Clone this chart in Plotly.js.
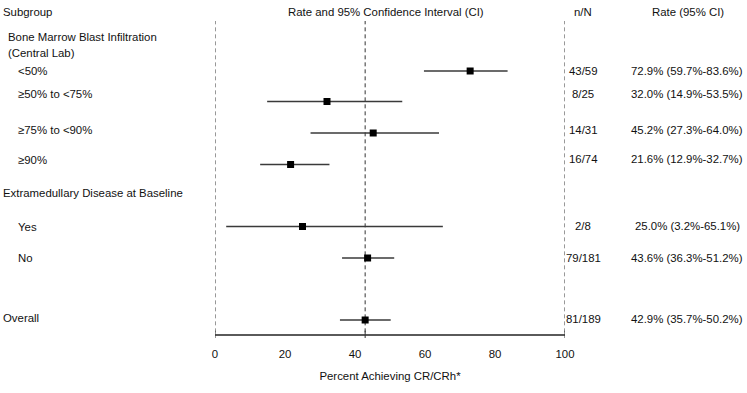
<!DOCTYPE html>
<html>
<head>
<meta charset="utf-8">
<script src="https://cdn.plot.ly/plotly-3.0.1.min.js"></script>
<style>html,body{margin:0;padding:0;background:#fff;}#chart{width:747px;height:393px;}</style>
</head>
<body>
<div id="chart"></div>
<script>
// Estimates (rate and 95% CI)
const subgroups = ["<50%", "≥50% to <75%", "≥75% to <90%", "≥90%", "Yes", "No", "Overall"];
const rate  = [72.9, 32.0, 45.2, 21.6, 25.0, 43.6, 42.9];
const lower = [59.7, 14.9, 27.3, 12.9, 3.2, 36.3, 35.7];
const upper = [83.6, 53.5, 64.0, 32.7, 65.1, 51.2, 50.2];
const nN    = ["43/59", "8/25", "14/31", "16/74", "2/8", "79/181", "81/189"];
// Row positions (vertical layout units, top = 0)
const markerRow = [71, 101.5, 133, 164.5, 226.5, 258, 320];
const textRow   = [71, 94, 130, 159, 226, 258, 319];
// Left-hand label column
const labelText = ["Subgroup", "Bone Marrow Blast Infiltration", "(Central Lab)", "<50%", "≥50% to <75%", "≥75% to <90%", "≥90%", "Extramedullary Disease at Baseline", "Yes", "No", "Overall"];
const labelRow  = [12, 37, 53, 71, 94, 130, 160, 193, 227, 258, 318];
const labelIndent = [0, 1, 1, 2, 2, 2, 2, 0, 2, 2, 0];
const xTicks = [0, 20, 40, 60, 80, 100];
const overallRate = 42.9;

const FONT = "Liberation Sans, Arial, sans-serif";
const FS = 11.4;
const PLOT_L = 215, PLOT_R = 565, W = PLOT_R - PLOT_L;
const px2paper = p => (p - PLOT_L) / W;

const rateLabels = rate.map((r, i) => r.toFixed(1) + "% (" + lower[i].toFixed(1) + "%-" + upper[i].toFixed(1) + "%)");

const trace = {
  type: "scatter",
  mode: "markers",
  x: rate,
  y: markerRow,
  text: subgroups,
  marker: {symbol: "square", size: 7, color: "#000"},
  error_x: {
    type: "data", symmetric: false,
    array: rate.map((r, i) => upper[i] - r),
    arrayminus: rate.map((r, i) => r - lower[i]),
    width: 0, thickness: 1.3, color: "#3a3a3a"
  },
  cliponaxis: false,
  showlegend: false,
  hoverinfo: "x+text"
};

const annotations = [];
const indentPx = [4, 9, 19];
const txtFont = {family: FONT, size: FS, color: "#111"};
labelText.forEach((t, i) => {
  annotations.push({xref: "paper", yref: "y", x: px2paper(indentPx[labelIndent[i]] - 3), y: labelRow[i],
    xanchor: "left", yanchor: "middle", text: t, showarrow: false, font: txtFont});
});
nN.forEach((t, i) => {
  annotations.push({xref: "paper", yref: "y", x: px2paper(583), y: textRow[i], xanchor: "center", yanchor: "middle",
    text: t, showarrow: false, font: txtFont});
  annotations.push({xref: "paper", yref: "y", x: px2paper(687), y: textRow[i], xanchor: "center", yanchor: "middle",
    text: rateLabels[i], showarrow: false, font: txtFont});
});
annotations.push({xref: "paper", yref: "y", x: px2paper(386), y: 12, xanchor: "center", yanchor: "middle",
  text: "Rate and 95% Confidence Interval (CI)", showarrow: false, font: txtFont});
annotations.push({xref: "paper", yref: "y", x: px2paper(583), y: 12, xanchor: "center", yanchor: "middle",
  text: "n/N", showarrow: false, font: txtFont});
annotations.push({xref: "paper", yref: "y", x: px2paper(688), y: 12, xanchor: "center", yanchor: "middle",
  text: "Rate (95% CI)", showarrow: false, font: txtFont});

const refLines = [0, overallRate, 100];
const shapes = refLines.map(v => ({type: "line", xref: "x", yref: "paper", x0: v, x1: v, y0: 0.005, y1: (334 - 21) / 334,
  line: {color: "#333", width: 1, dash: "4px,3px"}, layer: "below"}));
refLines.forEach(v => shapes.push({type: "line", xref: "x", yref: "paper", x0: v, x1: v, y0: -0.012, y1: 0.01,
  line: {color: "#333", width: 1}, layer: "above"}));

const layout = {
  width: 747, height: 393,
  margin: {l: PLOT_L, r: 747 - PLOT_R, t: 0, b: 59},
  paper_bgcolor: "#fff", plot_bgcolor: "#fff",
  font: {family: FONT, size: FS, color: "#111"},
  xaxis: {
    range: [0, 100], tickvals: xTicks, ticktext: xTicks.map(String),
    showgrid: false, zeroline: false, showline: true, linecolor: "#5a5a5a", linewidth: 1.6,
    ticks: "outside", ticklen: 9, tickcolor: "rgba(0,0,0,0)",
    tickfont: {family: FONT, size: FS, color: "#111"},
    title: {text: "Percent Achieving CR/CRh*", font: {family: FONT, size: FS, color: "#111"}, standoff: 13},
    fixedrange: true
  },
  yaxis: {range: [334, 0], visible: false, showgrid: false, zeroline: false, fixedrange: true},
  shapes: shapes,
  annotations: annotations
};

Plotly.newPlot("chart", [trace], layout, {displayModeBar: false, staticPlot: true});
</script>
</body>
</html>
